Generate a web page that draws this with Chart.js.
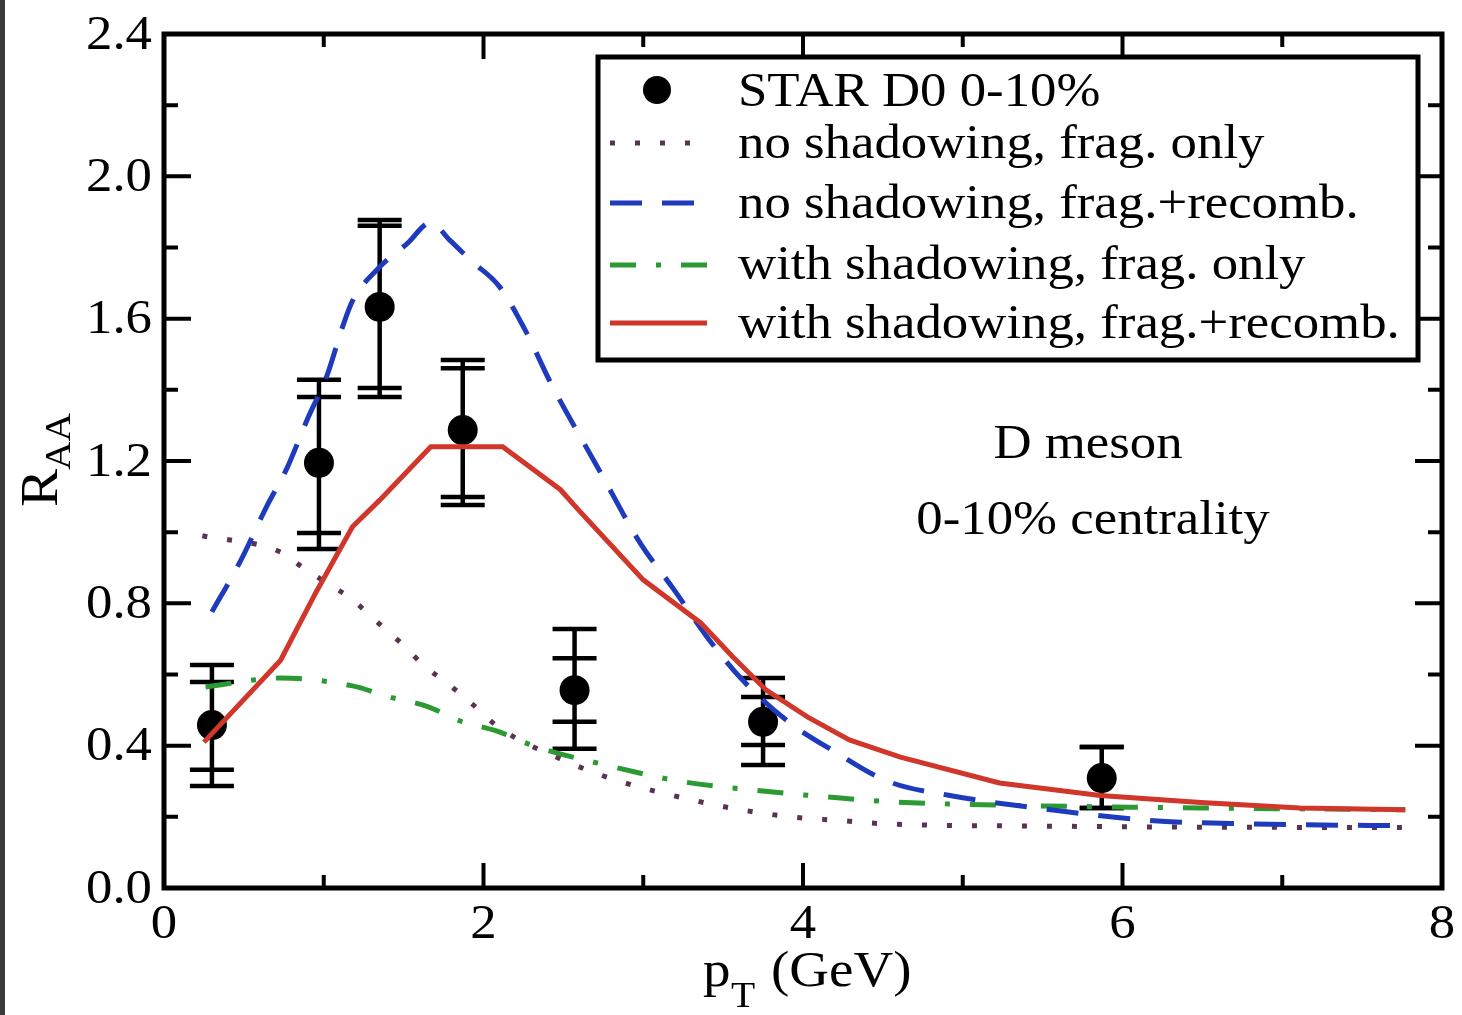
<!DOCTYPE html>
<html>
<head>
<meta charset="utf-8">
<script src="https://cdn.jsdelivr.net/npm/chart.js@4.4.0/dist/chart.umd.min.js"></script>
<style>
  body{margin:0;background:#fff;}
  canvas{display:block;}
</style>
</head>
<body>
<canvas id="grafica" width="1462" height="1015"></canvas>
<script>
// STAR D0 0-10% datos
var ptStar = [0.30, 0.97, 1.35, 1.87, 2.57, 3.75, 5.87];
var raaStar = [0.458, 1.195, 1.633, 1.287, 0.556, 0.467, 0.309];
var statAlto = [0.579, 1.380, 1.861, 1.461, 0.646, 0.537, 0.396];
var statBajo = [0.332, 0.998, 1.405, 1.099, 0.467, 0.402, 0.225];
var sysAlto = [0.627, 1.428, 1.877, 1.484, 0.728, 0.590, 0.396];
var sysBajo = [0.287, 0.953, 1.380, 1.076, 0.391, 0.346, 0.225];

// no shadowing, frag. only
var noShadFragX = [0.24, 0.73, 0.87, 1.02, 1.18, 1.32, 1.48, 1.63, 1.78, 1.93, 2.10, 2.55, 2.85, 3.31, 3.61, 3.92, 4.22, 4.53, 5.5, 6.5, 7.77];
var noShadFragY = [0.99, 0.944, 0.90, 0.857, 0.81, 0.753, 0.69, 0.624, 0.573, 0.517, 0.45, 0.35, 0.30, 0.247, 0.22, 0.20, 0.19, 0.18, 0.174, 0.171, 0.17];

// no shadowing, frag.+recomb.
var noShadRecX = [0.30, 0.48, 0.64, 0.77, 0.90, 1.02, 1.12, 1.18, 1.35, 1.52, 1.67, 1.79, 1.93, 2.10, 2.27, 2.42, 2.73, 2.98, 3.19, 3.40, 3.61, 3.90, 4.21, 4.53, 4.92, 5.55, 6.17, 6.80, 7.74];
var noShadRecY = [0.776, 0.92, 1.07, 1.18, 1.32, 1.44, 1.58, 1.65, 1.745, 1.81, 1.87, 1.82, 1.76, 1.69, 1.56, 1.42, 1.17, 0.97, 0.84, 0.705, 0.59, 0.47, 0.38, 0.30, 0.26, 0.22, 0.19, 0.18, 0.175];

// with shadowing, frag. only
var shadFragX = [0.26, 0.73, 1.18, 1.41, 1.65, 1.85, 2.09, 2.31, 2.77, 3.23, 3.69, 4.15, 4.56, 5.23, 6.49, 7.77];
var shadFragY = [0.565, 0.59, 0.568, 0.537, 0.51, 0.47, 0.44, 0.40, 0.345, 0.30, 0.275, 0.256, 0.242, 0.233, 0.225, 0.22];

// with shadowing, frag.+recomb.
var shadRecX = [0.25, 0.73, 0.95, 1.18, 1.35, 1.67, 2.12, 2.48, 2.60, 3.0, 3.36, 3.56, 3.77, 4.03, 4.29, 4.61, 5.23, 5.86, 6.49, 7.11, 7.77];
var shadRecY = [0.41, 0.64, 0.83, 1.015, 1.09, 1.24, 1.24, 1.12, 1.06, 0.866, 0.745, 0.65, 0.556, 0.48, 0.416, 0.368, 0.295, 0.26, 0.24, 0.225, 0.22];

var ticksX = [0, 2, 4, 6, 8];
var ticksY = ['0.0', '0.4', '0.8', '1.2', '1.6', '2.0', '2.4'];

function pares(xs, ys){
    return xs.map(function(x, i){ return {x: x, y: ys[i]}; });
}

var SERIF = '"Liberation Serif", "Times New Roman", Times, serif';
var ESTIRA = 1.1;

function texto(ctx, s, x, y, align, base){
    ctx.save();
    ctx.translate(x, y);
    ctx.scale(ESTIRA, 1);
    ctx.textAlign = align || 'left';
    ctx.textBaseline = base || 'alphabetic';
    ctx.fillText(s, 0, 0);
    ctx.restore();
}

var marcoPlugin = {
    id: 'marco',
    beforeDraw: function(chart){
        var ctx = chart.ctx;
        ctx.save();
        ctx.fillStyle = '#fff';
        ctx.fillRect(0, 0, chart.width, chart.height);
        ctx.fillStyle = '#3a3a3a';
        ctx.fillRect(0, 0, 5, chart.height);
        ctx.restore();
    },
    beforeDatasetsDraw: function(chart){
        var ctx = chart.ctx, xs = chart.scales.x, ys = chart.scales.y;
        ctx.save();
        ctx.strokeStyle = '#000';
        ctx.lineWidth = 4.5;
        for (var i = 0; i < ptStar.length; i++){
            var px = xs.getPixelForValue(ptStar[i]);
            var top = ys.getPixelForValue(Math.max(sysAlto[i], statAlto[i]));
            var bot = ys.getPixelForValue(Math.min(sysBajo[i], statBajo[i]));
            ctx.beginPath(); ctx.moveTo(px, top); ctx.lineTo(px, bot); ctx.stroke();
            [sysAlto[i], statAlto[i], sysBajo[i], statBajo[i]].forEach(function(v){
                var py = ys.getPixelForValue(v);
                ctx.beginPath(); ctx.moveTo(px - 22, py); ctx.lineTo(px + 22, py); ctx.stroke();
            });
        }
        ctx.restore();
    },
    afterDatasetsDraw: function(chart){
        var ctx = chart.ctx, a = chart.chartArea, xs = chart.scales.x, ys = chart.scales.y;
        ctx.save();
        ctx.strokeStyle = '#000';
        ctx.fillStyle = '#000';
        // ticks
        ctx.lineWidth = 4;
        for (var v = 0; v <= 8; v++){
            var px = xs.getPixelForValue(v);
            var len = v % 2 === 0 ? 25 : 13;
            ctx.beginPath();
            ctx.moveTo(px, a.bottom); ctx.lineTo(px, a.bottom - len);
            ctx.moveTo(px, a.top); ctx.lineTo(px, a.top + len);
            ctx.stroke();
        }
        for (var k = 0; k <= 12; k++){
            var py = ys.getPixelForValue(k * 0.2);
            var l2 = k % 2 === 0 ? 27 : 14;
            ctx.beginPath();
            ctx.moveTo(a.left, py); ctx.lineTo(a.left + l2, py);
            ctx.moveTo(a.right, py); ctx.lineTo(a.right - l2, py);
            ctx.stroke();
        }
        // marco
        ctx.lineWidth = 5;
        ctx.strokeRect(a.left, a.top, a.right - a.left, a.bottom - a.top);

        // etiquetas
        ctx.font = '48px ' + SERIF;
        ticksX.forEach(function(t){
            texto(ctx, String(t), xs.getPixelForValue(t), 925, 'center', 'middle');
        });
        ticksY.forEach(function(t){
            texto(ctx, t, 152, ys.getPixelForValue(parseFloat(t)) + 2, 'right', 'middle');
        });

        // titulo eje x
        ctx.font = '50px ' + SERIF;
        texto(ctx, 'p', 703, 986, 'left');
        ctx.font = '36px ' + SERIF;
        texto(ctx, 'T', 731, 1007, 'left');
        ctx.font = '50px ' + SERIF;
        texto(ctx, '(GeV)', 771, 986, 'left');

        // titulo eje y
        ctx.save();
        ctx.translate(55, 470);
        ctx.rotate(-Math.PI / 2);
        ctx.font = '52px ' + SERIF;
        texto(ctx, 'R', -37, 2, 'left');
        ctx.font = '36px ' + SERIF;
        texto(ctx, 'AA', 0, 15, 'left');
        ctx.restore();

        // anotacion
        ctx.font = '48px ' + SERIF;
        texto(ctx, 'D meson', 1088, 458, 'center');
        texto(ctx, '0-10% centrality', 1093, 534, 'center');

        // leyenda
        ctx.fillStyle = '#fff';
        ctx.fillRect(598, 57, 820, 303);
        ctx.lineWidth = 5;
        ctx.strokeRect(598, 57, 820, 303);
        var filas = [
            {ds: 4, y: 90, base: 106},
            {ds: 3, y: 143, base: 158},
            {ds: 1, y: 203, base: 218},
            {ds: 2, y: 265, base: 279},
            {ds: 0, y: 323, base: 338}
        ];
        filas.forEach(function(f){
            var d = chart.data.datasets[f.ds];
            if (d.showLine === false){
                ctx.fillStyle = '#000';
                ctx.beginPath(); ctx.arc(657, f.y, 14, 0, Math.PI * 2); ctx.fill();
            } else {
                ctx.save();
                ctx.strokeStyle = d.borderColor;
                ctx.lineWidth = d.borderWidth;
                ctx.setLineDash(d.borderDash || []);
                ctx.beginPath(); ctx.moveTo(610, f.y); ctx.lineTo(707, f.y); ctx.stroke();
                ctx.restore();
            }
            ctx.fillStyle = '#000';
            ctx.font = '48px ' + SERIF;
            texto(ctx, d.label, 738, f.base, 'left');
        });
        ctx.restore();
    }
};

var ctx = document.getElementById('grafica').getContext('2d');
var chart = new Chart(ctx, {
    type: 'line',
    data: {
        datasets: [
            {
                label: 'with shadowing, frag.+recomb.',
                data: pares(shadRecX, shadRecY),
                borderColor: '#d0362a',
                borderWidth: 5,
                tension: 0,
                pointRadius: 0
            },
            {
                label: 'no shadowing, frag.+recomb.',
                data: pares(noShadRecX, noShadRecY),
                borderColor: '#1f3bbd',
                borderWidth: 5,
                borderDash: [32, 20],
                cubicInterpolationMode: 'monotone',
                pointRadius: 0
            },
            {
                label: 'with shadowing, frag. only',
                data: pares(shadFragX, shadFragY),
                borderColor: '#2b9a33',
                borderWidth: 5,
                borderDash: [26, 20, 5, 20],
                cubicInterpolationMode: 'monotone',
                pointRadius: 0
            },
            {
                label: 'no shadowing, frag. only',
                data: pares(noShadFragX, noShadFragY),
                borderColor: '#5b3352',
                borderWidth: 5,
                borderDash: [5, 20],
                cubicInterpolationMode: 'monotone',
                pointRadius: 0
            },
            {
                label: 'STAR D0 0-10%',
                data: pares(ptStar, raaStar),
                showLine: false,
                pointRadius: 15,
                pointBackgroundColor: '#000',
                pointBorderWidth: 0
            }
        ]
    },
    options: {
        responsive: false,
        animation: false,
        devicePixelRatio: 1,
        layout: {padding: {left: 164, top: 34, right: 20, bottom: 127}},
        scales: {
            x: {type: 'linear', min: 0, max: 8, display: false},
            y: {type: 'linear', min: 0, max: 2.4, display: false}
        },
        plugins: {legend: {display: false}, tooltip: {enabled: false}}
    },
    plugins: [marcoPlugin]
});
</script>
</body>
</html>
